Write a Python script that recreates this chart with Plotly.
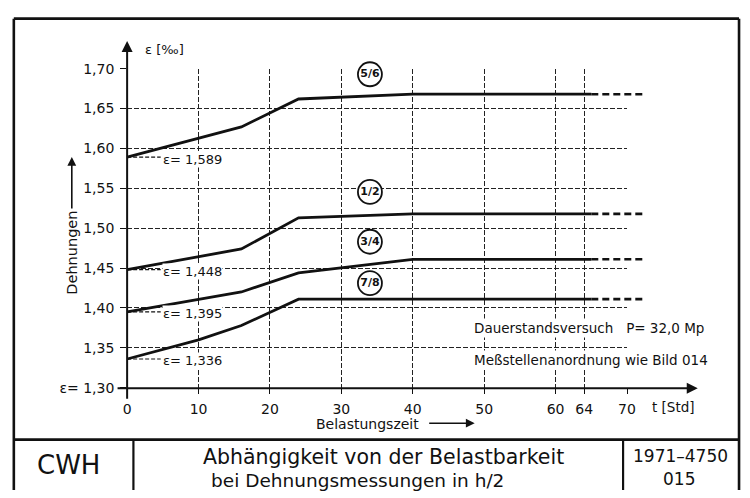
import plotly.graph_objects as go

# ---------------- data ----------------
t_56 = [0, 16, 24, 40, 65]
e_56 = [1.589, 1.627, 1.662, 1.668, 1.668]
t_12 = [0, 16, 24, 40, 65]
e_12 = [1.448, 1.474, 1.513, 1.518, 1.518]
t_34 = [0, 16, 24, 40, 65]
e_34 = [1.395, 1.420, 1.444, 1.461, 1.461]
t_78 = [0, 10, 16, 24, 40, 65]
e_78 = [1.336, 1.360, 1.378, 1.411, 1.411, 1.411]
t_ext = [65, 72.5]

start_values = [1.589, 1.448, 1.395, 1.336]
start_labels = ["ε= 1,589", "ε= 1,448", "ε= 1,395", "ε= 1,336"]

circle_names = ["5/6", "1/2", "3/4", "7/8"]
circle_t = [34, 34, 34, 34]
circle_e = [1.693, 1.5455, 1.483, 1.431]

x_ticks = [0, 10, 20, 30, 40, 50, 60, 64, 70]
y_ticks = [1.30, 1.35, 1.40, 1.45, 1.50, 1.55, 1.60, 1.65, 1.70]
y_ticktext = ["ε= 1,30", "1,35", "1,40", "1,45", "1,50", "1,55", "1,60", "1,65", "1,70"]

# ---------------- geometry (pixels) ----------------
W, H = 750, 498
GX0, GX1 = 125.3, 634.0     # pixel of t=0 and t=70
GY0, GY1 = 392.3, 62.7      # pixel of 1.30 and 1.70
XMIN, XMAX = 0, 70
YMIN, YMAX = 1.30, 1.70
ppx = (GX1 - GX0) / (XMAX - XMIN)
ppy = (GY0 - GY1) / (YMAX - YMIN)

def px(x):
    return x / W

def py(y):
    return 1 - y / H

FONT = "DejaVu Sans"
BLACK = "#111111"

fig = go.Figure()

# invisible trace that establishes the grid subplot
fig.add_trace(go.Scatter(x=[0], y=[1.3], mode="markers", marker=dict(opacity=0),
                         xaxis="x", yaxis="y", showlegend=False, hoverinfo="skip"))

series = [(t_56, e_56), (t_12, e_12), (t_34, e_34), (t_78, e_78)]
for tt, ee in series:
    fig.add_trace(go.Scatter(x=tt, y=ee, mode="lines", xaxis="x2", yaxis="y2",
                             line=dict(color=BLACK, width=2.8), showlegend=False))
    fig.add_trace(go.Scatter(x=t_ext, y=[ee[-1], ee[-1]], mode="lines", xaxis="x2", yaxis="y2",
                             line=dict(color=BLACK, width=2.6, dash="7px,4px"), showlegend=False))

# dashed leaders for the start values
for v in start_values:
    fig.add_trace(go.Scatter(x=[0, 4.7], y=[v, v], mode="lines", xaxis="x2", yaxis="y2",
                             line=dict(color=BLACK, width=1.2, dash="4px,2px"), showlegend=False))

# circled measuring-point labels
fig.add_trace(go.Scatter(x=circle_t, y=circle_e, mode="markers+text", xaxis="x2", yaxis="y2",
                         text=circle_names, textposition="middle center",
                         textfont=dict(family=FONT, size=11, color=BLACK, weight="bold"),
                         marker=dict(symbol="circle", size=24, color="white",
                                     line=dict(color=BLACK, width=1.8)),
                         showlegend=False))

annotations = []
for v, lab in zip(start_values, start_labels):
    annotations.append(dict(x=4.9, y=v, xref="x2", yref="y2", text=lab, showarrow=False,
                            xanchor="left", yanchor="middle", yshift=-2,
                            font=dict(family=FONT, size=13, color=BLACK),
                            bgcolor="white", borderpad=0))

def ann(x, y, text, size=12, xanchor="center", **kw):
    d = dict(x=px(x), y=py(y), xref="paper", yref="paper", text=text, showarrow=False,
             xanchor=xanchor, yanchor="middle", font=dict(family=FONT, size=size, color=BLACK))
    d.update(kw)
    annotations.append(d)

def arrow(hx, hy, tx, ty, width=2.0, size=1.0):
    annotations.append(dict(x=px(hx), y=py(hy), xref="paper", yref="paper",
                            ax=tx - hx, ay=ty - hy, axref="pixel", ayref="pixel",
                            text="", showarrow=True, arrowhead=2, arrowsize=size,
                            arrowwidth=width, arrowcolor=BLACK))

# axes with arrowheads
arrow(GX0, 34, GX0, GY0 + 1, width=2.0, size=1.1)
arrow(706, GY0 + 0.5, GX0 - 1, GY0 + 0.5, width=2.0, size=1.1)
# axis titles
ann(141, 43, "ε [‰]", size=13, xanchor="left")
ann(681, 412, "t [Std]", size=13.5)
ann(69, 253, "Dehnungen", size=14.5, textangle=-90)
arrow(69, 154, 69, 207, width=1.6, size=1.1)
ann(315, 430, "Belastungszeit", size=14, xanchor="left")
arrow(479, 429, 432, 429, width=1.6, size=1.1)

ann(476, 331, "Dauerstandsversuch   P= 32,0 Mp", size=13.5, xanchor="left", bgcolor="white")
ann(476, 364, "Meßstellenanordnung wie Bild 014", size=13.5, xanchor="left", bgcolor="white")

# title block
ann(66, 472, "CWH", size=26)
ann(386, 464, "Abhängigkeit von der Belastbarkeit", size=20.5)
ann(360, 488, "bei Dehnungsmessungen in h/2", size=18.5)
ann(688, 463, "1971–4750", size=17)
ann(687, 487, "015", size=17)

shapes = []
def line(x0, y0, x1, y1, w=2.6, color=BLACK):
    shapes.append(dict(type="line", xref="paper", yref="paper",
                       x0=px(x0), y0=py(y0), x1=px(x1), y1=py(y1),
                       line=dict(color=color, width=w)))
line(10, 11, 748, 11)
line(10, 11, 10, 498)
line(748, 11, 748, 498)
line(10, 446, 748, 446)
line(131.7, 446, 131.7, 498, 2.2)
line(630, 446, 630, 498, 2.2)

x2range = [(0 - GX0) / ppx + XMIN, (W - GX0) / ppx + XMIN]
y2range = [YMAX - (H - GY1) / ppy, YMAX + GY1 / ppy]

fig.update_layout(
    width=W, height=H,
    margin=dict(l=0, r=0, t=0, b=0, pad=0),
    paper_bgcolor="white",
    plot_bgcolor="rgba(0,0,0,0)",
    showlegend=False,
    xaxis=dict(domain=[px(GX0), px(GX1)], range=[XMIN, XMAX], anchor="y",
               tickvals=x_ticks, ticktext=[str(v) for v in x_ticks],
               showgrid=True, gridcolor="#222222", gridwidth=1, griddash="5px,2px",
               zeroline=False, showline=False,
               ticks="outside", ticklen=5, tickcolor=BLACK, tickwidth=1,
               ticklabelstandoff=4,
               tickfont=dict(family=FONT, size=14, color=BLACK), fixedrange=True),
    yaxis=dict(domain=[py(GY0), py(GY1)], range=[YMIN, YMAX], anchor="x",
               tickvals=y_ticks, ticktext=y_ticktext,
               showgrid=True, gridcolor="#222222", gridwidth=1, griddash="5px,2px",
               zeroline=False, showline=False,
               ticks="outside", ticklen=6, tickcolor=BLACK, tickwidth=1,
               ticklabelstandoff=3,
               tickfont=dict(family=FONT, size=14, color=BLACK), fixedrange=True),
    xaxis2=dict(domain=[0, 1], range=x2range, anchor="y2", visible=False, fixedrange=True),
    yaxis2=dict(domain=[0, 1], range=y2range, anchor="x2", visible=False, fixedrange=True),
    annotations=annotations,
    shapes=shapes,
)

post = ("var s=document.createElement('style');"
        "s.textContent='html,body{margin:0;padding:0;overflow:hidden;background:#ffffff;}';"
        "document.head.appendChild(s);"
        "var d=document.getElementById('{plot_id}');"
        "d.style.position='fixed';d.style.left='0px';d.style.top='0px';")

fig.write_html("out.html", config={"displayModeBar": False}, post_script=post)
